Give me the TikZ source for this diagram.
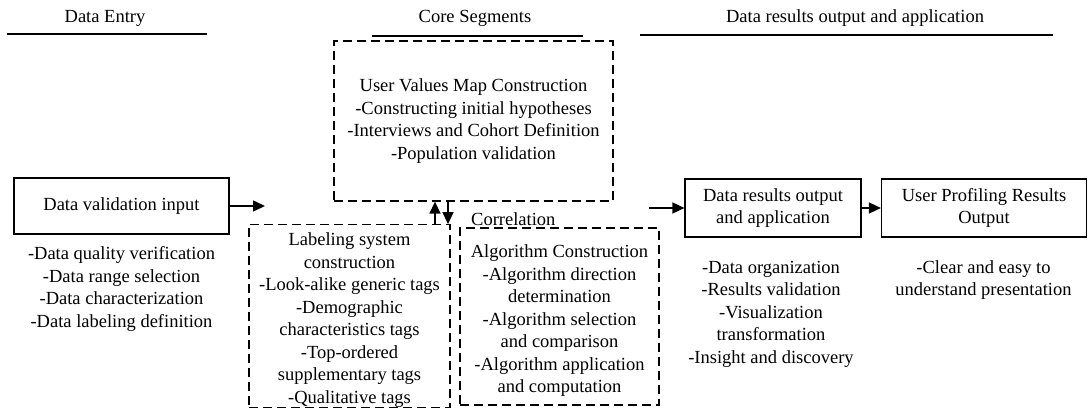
\documentclass[tikz,border=0pt]{standalone}
\usepackage{fontspec}
\setmainfont{Liberation Serif}
\usetikzlibrary{arrows.meta}
\begin{document}
\begin{tikzpicture}[x=1pt,y=-1pt,
  txt/.style={font=\fontsize{18.5}{22.5}\selectfont, align=center, inner sep=0pt},
  solidbox/.style={txt, draw, line width=1.2pt, rectangle},
  dashbox/.style={txt, draw, line width=1.3pt, dash pattern=on 9pt off 5pt, rectangle},
  hdrline/.style={line width=1.8pt},
  arr/.style={line width=1.5pt, -{Triangle[length=12pt,width=11pt]}}
]
\useasboundingbox (0,0) rectangle (1089,409);

% headers
\node[txt] (h1) at (105,18) {Data Entry};
\node[txt] (h2) at (475,18) {Core Segments};
\node[txt] (h3) at (855,18) {Data results output and application};
\draw[hdrline] (7,34) -- (207,34);
\draw[hdrline] (372,36) -- (583,36);
\draw[hdrline] (640,35) -- (1053,35);

% boxes
\node[solidbox, minimum width=215pt, minimum height=56pt] (dvi) at (121.5,206) {Data validation input};
\node[dashbox, minimum width=279pt, minimum height=160pt] (core) at (473.5,121)
  {User Values Map Construction\\-Constructing initial hypotheses\\-Interviews and Cohort Definition\\-Population validation};
\node[dashbox, minimum width=201pt, minimum height=178pt] (lab) at (349.5,316)
  {\rule{0pt}{21pt}Labeling system\\construction\\-Look-alike generic tags\\-Demographic\\characteristics tags\\-Top-ordered\\supplementary tags\\-Qualitative tags};
\node[dashbox, minimum width=199pt, minimum height=177pt] (alg) at (559.5,316.5)
  {\rule{0pt}{21pt}Algorithm Construction\\-Algorithm direction\\determination\\-Algorithm selection\\and comparison\\-Algorithm application\\and computation};
\node[txt, anchor=west] (corr) at (471,219) {Correlation};
\node[solidbox, minimum width=176pt, minimum height=58pt] (dro) at (773,208) {Data results output\\and application};
\node[solidbox, minimum width=205pt, minimum height=58pt] (upo) at (984,208) {User Profiling Results\\Output};

% lists
\node[txt] (l1) at (121.5,289) {-Data quality verification\\-Data range selection\\-Data characterization\\-Data labeling definition};
\node[txt] (l2) at (771,314) {-Data organization\\-Results validation\\-Visualization\\transformation\\-Insight and discovery};
\node[txt] (l3) at (983.5,280) {-Clear and easy to\\understand presentation};

% connectors
\coordinate (a1) at (265,206);
\coordinate (a2) at (649,208);
\coordinate (ux) at (435,0);
\coordinate (dx) at (448,0);
\draw[arr] (dvi.east) -- (a1);
\draw[arr] (a2) -- (dro.west);
\draw[arr] (dro.east) -- (upo.west);
\draw[arr] (lab.north -| ux) -- (core.south -| ux);
\draw[arr] (core.south -| dx) -- (lab.north -| dx);
\end{tikzpicture}
\end{document}
